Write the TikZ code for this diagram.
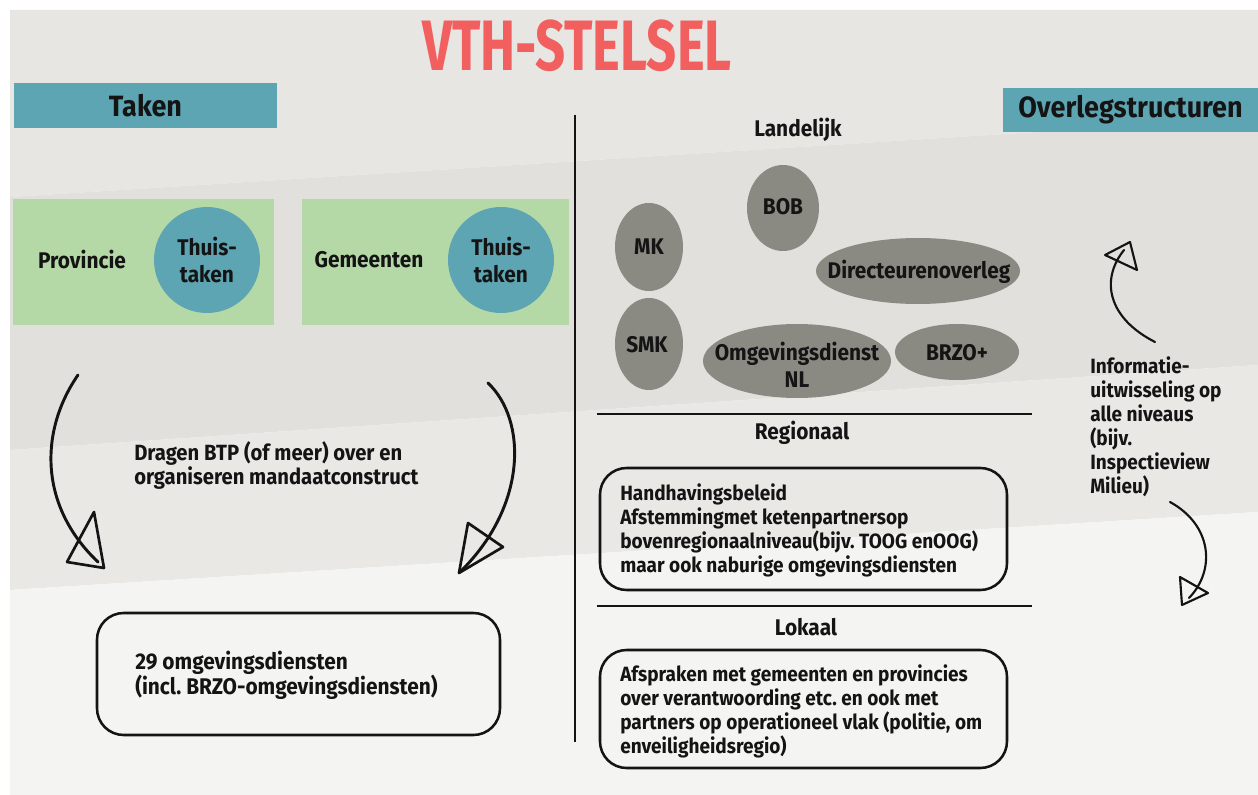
\documentclass[tikz,border=0pt]{standalone}
\usepackage{graphicx}
\usepackage{fontspec}
\setmainfont[FakeStretch=0.92]{Fira Sans}
\usetikzlibrary{shapes.geometric}
\frenchspacing
\definecolor{ink}{HTML}{141414}
\definecolor{titlered}{HTML}{F25F5F}
\definecolor{tealc}{HTML}{5DA5B3}
\definecolor{greenbox}{HTML}{B5D8A7}
\definecolor{ellgray}{HTML}{8A8982}
\definecolor{bgA}{HTML}{E7E6E3}
\definecolor{bgB}{HTML}{E1E0DD}
\definecolor{bgC}{HTML}{E9E8E5}
\definecolor{bgD}{HTML}{F4F4F3}
\tikzset{
  heading/.style={fill=tealc, text=ink, inner sep=0pt, font=\bfseries\fontsize{22pt}{24pt}\selectfont},
  greenrect/.style={fill=greenbox, inner sep=0pt},
  circ/.style={circle, fill=tealc, inner sep=0pt, minimum size=79.5pt},
  ell/.style={ellipse, fill=ellgray, inner sep=0pt},
  lbl/.style={text=ink, inner sep=0pt, align=center, font=\bfseries\fontsize{17pt}{20pt}\selectfont},
  level/.style={text=ink, inner sep=0pt, font=\bfseries\fontsize{17pt}{20pt}\selectfont},
  body/.style={text=ink, inner sep=0pt, align=left, anchor=west, font=\bfseries\fontsize{15.5pt}{18pt}\selectfont},
  sketchbox/.style={draw=ink, line width=1.9pt, rounded corners=20pt, inner sep=0pt},
  sepline/.style={draw=ink, line width=0.9pt},
  curve/.style={draw=ink, line width=2.2pt, line cap=round},
  tri/.style={draw=ink, line width=2pt, line join=round}
}
\begin{document}
\begin{tikzpicture}[x=0.75pt,y=-0.75pt]
\useasboundingbox (0,0) rectangle (1258,795);
% background
\fill[white] (0,0) rectangle (1258,795);
\fill[bgA] (10,10) -- (1258,10) -- (1258,118) -- (10,197) -- cycle;
\fill[bgB] (10,197) -- (1258,118) -- (1258,365) -- (10,450) -- cycle;
\fill[bgC] (10,450) -- (1258,365) -- (1258,512) -- (10,590) -- cycle;
\fill[bgD] (10,590) -- (1258,512) -- (1258,795) -- (10,795) -- cycle;

% title
\node[text=titlered, inner sep=0pt] (title) at (577,46) {\resizebox{232pt}{38pt}{\bfseries VTH-STELSEL}};

% headings
\node[heading, minimum width=197.25pt, minimum height=33.75pt] (taken) at (145.5,105.5) {Taken};
\node[heading, minimum width=191.25pt, minimum height=33pt] (overleg) at (1130.5,110) {Overlegstructuren};

% divider
\coordinate (vtop) at (575,115);
\coordinate (vbot) at (575,742);
\draw[sepline] (vtop) -- (vbot);

% left: green boxes
\node[greenrect, minimum width=195.75pt, minimum height=94.5pt] (prov) at (143.5,262) {};
\node[greenrect, minimum width=200.25pt, minimum height=94.5pt] (gem) at (435.5,262) {};
\node[lbl] (provt) at (82,260) {Provincie};
\node[lbl] (gemt) at (369,260) {Gemeenten};
\node[circ] (c1) at (207,260) {};
\node[circ] (c2) at (501,260) {};
\node[lbl] (c1t) at (c1) {Thuis-\\taken};
\node[lbl] (c2t) at (c2) {Thuis-\\taken};

% left: text and arrows
\node[body, font=\bfseries\fontsize{16.5pt}{18pt}\selectfont] (dragen) at (134,465) {Dragen BTP (of meer) over en\\organiseren mandaatconstruct};
\coordinate (la1) at (78,375);
\coordinate (la2) at (98,562);
\draw[curve] (la1) .. controls (40,430) and (38,505) .. (la2);
\draw[tri] (67,562) -- (94,512) -- (104,568) -- cycle;
\coordinate (ra1) at (488,383);
\coordinate (ra2) at (462,570);
\draw[curve] (ra1) .. controls (527,420) and (527,505) .. (ra2);
\draw[tri] (459,573) -- (468,523) -- (503,547) -- cycle;

\node[sketchbox, minimum width=302.25pt, minimum height=91.5pt] (od) at (298.5,674) {};
\node[body, font=\bfseries\fontsize{17pt}{18.5pt}\selectfont] (odt) at (135,675) {29 omgevingsdiensten\\(incl. BRZO-omgevingsdiensten)};

% right: levels
\node[level] (land) at (798,130) {Landelijk};
\node[ell, minimum width=51pt, minimum height=66pt] (mk) at (649,247) {};
\node[ell, minimum width=54pt, minimum height=64.5pt] (bob) at (783,208) {};
\node[ell, minimum width=153pt, minimum height=49.5pt] (dir) at (918,271) {};
\node[ell, minimum width=51pt, minimum height=69pt] (smk) at (649,344) {};
\node[ell, minimum width=141pt, minimum height=55.5pt] (odnl) at (797,361) {};
\node[ell, minimum width=93pt, minimum height=42pt] (brzo) at (957,352) {};
\node[lbl] (mkt) at (649,247) {MK};
\node[lbl] (bobt) at (783,207) {BOB};
\node[lbl] (dirt) at (919,272) {Directeurenoverleg};
\node[lbl] (smkt) at (647,345) {SMK};
\node[lbl] (odnlt) at (797,365) {Omgevingsdienst\\NL};
\node[lbl] (brzot) at (957,353) {BRZO+};

\coordinate (h1a) at (597,414);
\coordinate (h1b) at (1032,414);
\draw[sepline] (h1a) -- (h1b);
\node[level] (reg) at (802,433) {Regionaal};
\node[sketchbox, minimum width=305.25pt, minimum height=91.5pt] (regbox) at (803.5,529) {};
\node[body] (regt) at (620,530) {Handhavingsbeleid\\Afstemmingmet ketenpartnersop\\bovenregionaalniveau(bijv. TOOG enOOG)\\maar ook naburige omgevingsdiensten};

\coordinate (h2a) at (597,606);
\coordinate (h2b) at (1032,606);
\draw[sepline] (h2a) -- (h2b);
\node[level] (lok) at (806,627) {Lokaal};
\node[sketchbox, minimum width=305.25pt, minimum height=88.5pt] (lokbox) at (803.5,709) {};
\node[body] (lokt) at (620,711) {Afspraken met gemeenten en provincies\\over verantwoording etc. en ook met\\partners op operationeel vlak (politie, om\\enveiligheidsregio)};

% far right
\node[body] (info) at (1090,427) {Informatie-\\uitwisseling op\\alle niveaus\\(bijv.\\Inspectieview\\Milieu)};
\coordinate (ua1) at (1155,342);
\coordinate (ua2) at (1124,250);
\draw[curve, line width=1.6pt] (ua1) .. controls (1108,318) and (1100,280) .. (ua2);
\draw[tri, line width=1.6pt] (1105,255) -- (1130,242) -- (1137,270) -- cycle;
\coordinate (da1) at (1170,502);
\coordinate (da2) at (1189,598);
\draw[curve, line width=1.6pt] (da1) .. controls (1212,525) and (1216,570) .. (da2);
\draw[tri, line width=1.6pt] (1180,577) -- (1208,593) -- (1182,605) -- cycle;
\end{tikzpicture}
\end{document}
